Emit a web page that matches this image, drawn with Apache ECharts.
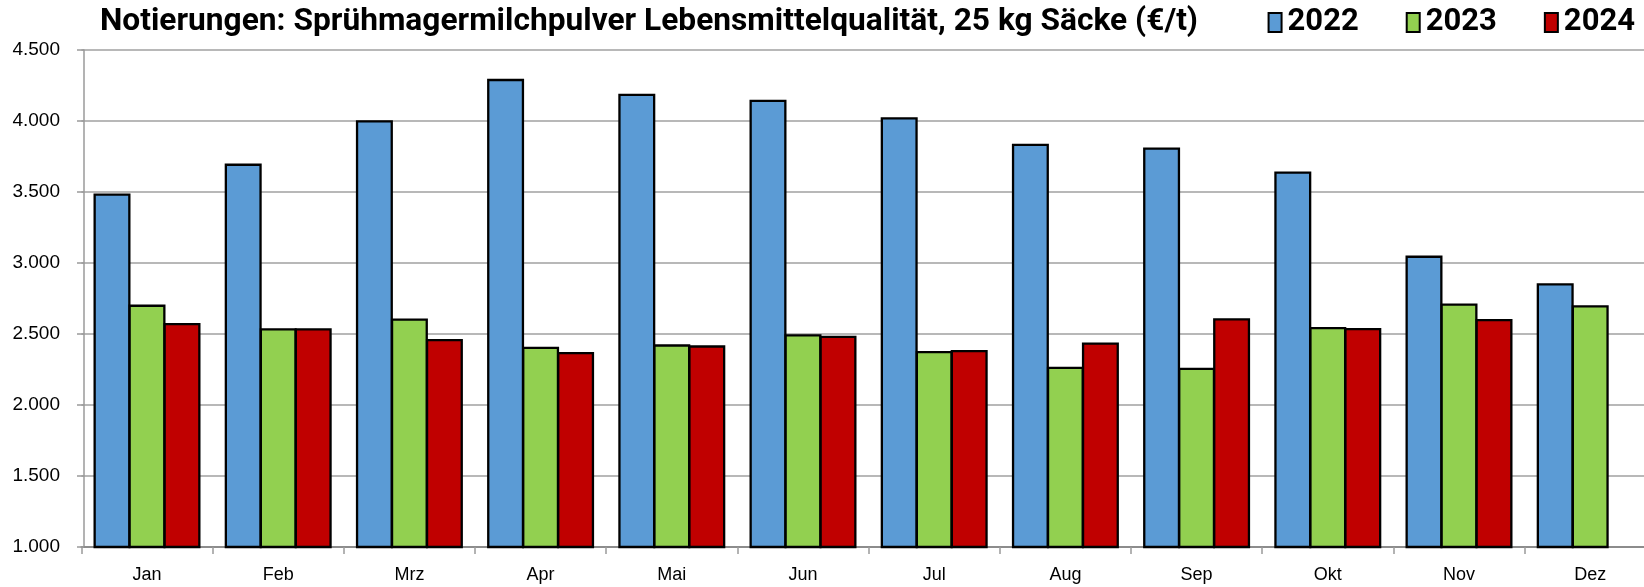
<!DOCTYPE html>
<html><head><meta charset="utf-8">
<script src="https://cdn.jsdelivr.net/npm/echarts@6/dist/echarts.min.js"></script>
<style>html,body{margin:0;padding:0;background:#fff}#c{width:1644px;height:587px}</style>
</head><body><div id="c"></div>
<script>
const categories = ['Jan','Feb','Mrz','Apr','Mai','Jun','Jul','Aug','Sep','Okt','Nov','Dez'];
const s2022 = [3490,3700,4005,4297,4192,4150,4026,3840,3813,3645,3052,2858];
const s2023 = [2707,2540,2610,2410,2427,2498,2381,2269,2263,2550,2715,2703];
const s2024 = [2578,2540,2465,2373,2420,2488,2387,2441,2611,2542,2606,null];
const seriesNames = ['2022','2023','2024'];
const colors = ['#5B9BD5','#92D050','#C00000'];
const titleText = 'Notierungen: Sprühmagermilchpulver Lebensmittelqualität, 25 kg Säcke (€/t)';

const TFONT = 'bold 32px Roboto';
const cv = document.createElement('canvas').getContext('2d');
cv.font = TFONT;
const titleW = cv.measureText(titleText).width;
const titleScale = 1098 / titleW;

const LFONT = '"Liberation Sans", Arial, sans-serif';
const chart = echarts.init(document.getElementById('c'));
const data = [s2022, s2023, s2024];
chart.setOption({
  animation: false,
  graphic: [{ type: 'text', x: 100, y: 22, scaleX: titleScale, originX: 0,
    style: { text: titleText, font: TFONT, fill: '#000', verticalAlign: 'middle', align: 'left' } }],
  legend: { right: 9, top: 7, padding: 0, icon: 'rect', itemWidth: 13, itemHeight: 19, itemGap: 47,
    textStyle: { fontFamily: 'Roboto', fontWeight: 'bold', fontSize: 31, color: '#000', padding: [0,0,0,1] },
    data: seriesNames },
  grid: { left: 81.4, right: -11.8, top: 50, bottom: 40, outerBoundsMode: 'none', containLabel: false },
  xAxis: { type: 'category', data: categories,
    axisLine: { lineStyle: { color: '#8c8c8c', width: 2 } },
    axisTick: { show: true, length: 7, lineStyle: { color: '#9a9a9a', width: 1.5 } },
    axisLabel: { fontFamily: LFONT, fontSize: 18, color: '#000', margin: 19 } },
  yAxis: { type: 'value', min: 1000, max: 4500, interval: 500, offset: -2.6,
    axisLine: { show: true, lineStyle: { color: '#9a9a9a', width: 1.5 } },
    axisTick: { show: true, length: 7, lineStyle: { color: '#9a9a9a', width: 1.5 } },
    splitLine: { lineStyle: { color: '#a0a0a0', width: 1.5 } },
    axisLabel: { fontFamily: LFONT, fontSize: 19, color: '#000', margin: 24,
      formatter: v => v.toLocaleString('de-DE') } },
  series: seriesNames.map((n, i) => ({
    name: n, type: 'bar', data: data[i], barGap: '-5.4%', barWidth: 37,
    itemStyle: { color: colors[i], borderColor: '#000', borderWidth: 2.3 }
  }))
});
</script></body></html>
